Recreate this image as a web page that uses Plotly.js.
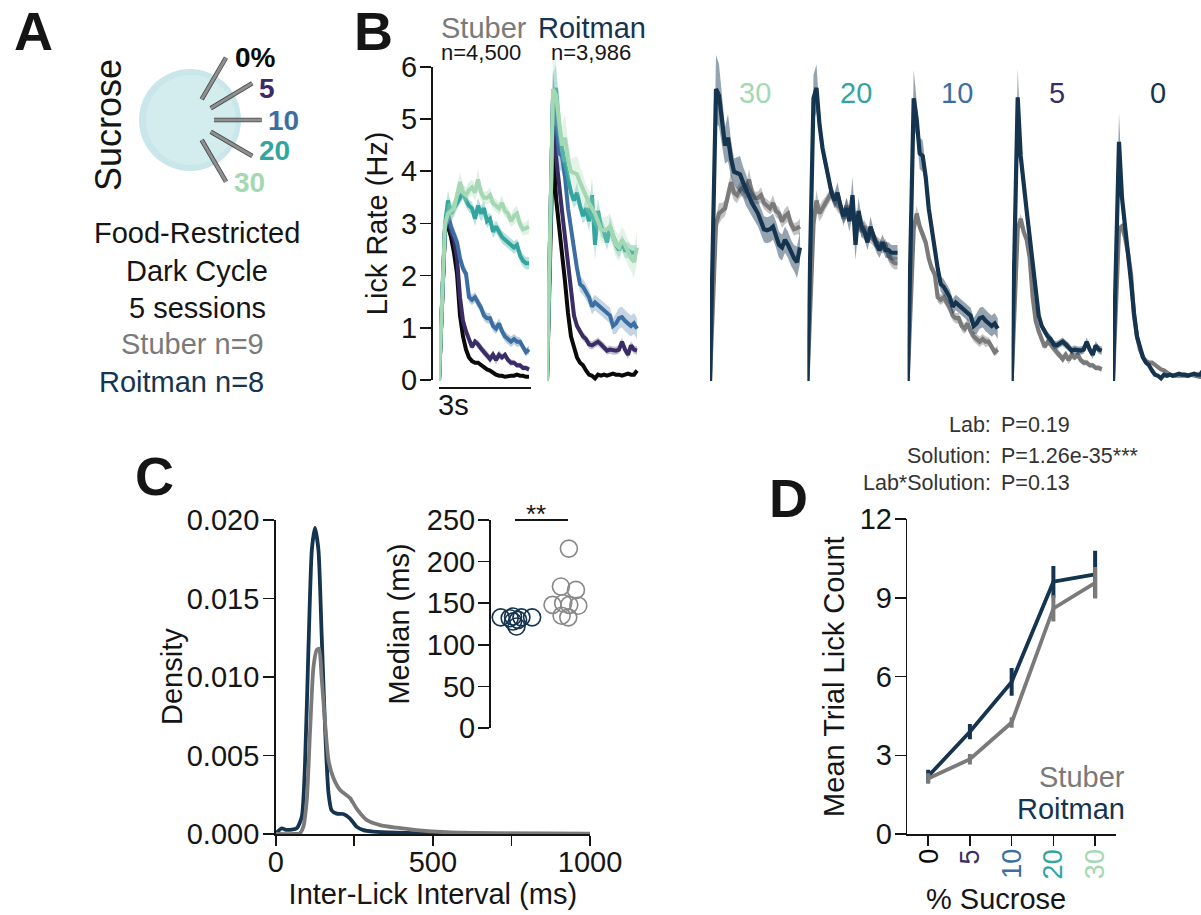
<!DOCTYPE html>
<html><head><meta charset="utf-8">
<script src="https://cdn.plot.ly/plotly-3.0.1.min.js"></script>
<style>html,body{margin:0;padding:0;background:#fff}#c{width:1201px;height:915px}</style>
</head><body><div id="c"></div>
<script>
const W=1201,H=915,FF='"Liberation Sans",Arial,sans-serif';
const NAVY='#14344f',GRAY='#7a7a7a',INK='#151515';
const C30='#a3d8b3',C20='#33a59f',C10='#3b6fa3',C5='#3a2d66',C0='#0a0a0a';
const conc=['30','20','10','5','0'];
const concCol=[C30,C20,C10,C5,C0];
const time=[0,.1,.2,.3,.4,.5,.6,.7,.8,.9,1,1.1,1.2,1.3,1.4,1.5,1.6,1.7,1.8,1.9,2,2.1,2.2,2.3,2.4,2.5,2.6,2.7,2.8,2.9,3];
const S30=[0,1.6,3.0,3.2,3.25,3.3,3.55,3.8,3.6,3.55,3.65,3.7,3.6,3.85,3.6,3.5,3.5,3.55,3.4,3.35,3.3,3.4,3.25,3.2,3.05,3.15,3.2,3.0,2.9,2.92,2.95];
const S20=[0,1.6,3.0,3.45,3.2,3.3,3.4,3.5,3.6,3.45,3.35,3.3,3.1,3.35,3.2,3.3,3.05,3.1,2.85,2.95,2.85,2.75,2.7,2.65,2.6,2.55,2.6,2.4,2.3,2.25,2.25];
const S10=[0,1.6,2.9,3.2,2.95,2.8,2.65,2.35,2.15,2.05,1.6,1.55,1.6,1.5,1.4,1.25,1.2,1.2,1.05,1.0,1.1,.95,.85,.8,.75,.8,.75,.75,.65,.55,.6];
const S5=[0,1.6,2.9,3.1,2.85,2.7,2.35,1.6,1.15,.95,.8,.65,.75,.7,.62,.55,.5,.42,.5,.4,.5,.45,.5,.4,.35,.35,.3,.3,.25,.25,.22];
const S0=[0,1.6,2.9,2.95,2.75,2.45,2.05,1.25,.85,.6,.45,.38,.35,.35,.3,.25,.22,.2,.15,.12,.1,.1,.08,.1,.1,.1,.12,.1,.1,.08,.08];
const R30=[0,2.8,5.58,5.46,5.0,4.5,4.65,4.25,4.0,3.98,3.95,3.8,3.65,3.5,3.4,3.3,3.2,3.05,2.9,2.88,2.9,2.95,2.8,2.6,2.55,2.7,2.6,2.45,2.35,2.27,2.55];
const R20=[0,2.7,5.4,5.6,4.9,4.45,4.15,3.9,3.6,3.45,3.6,3.35,3.15,3.3,3.05,3.55,2.6,3.25,2.95,2.85,2.65,2.95,2.75,2.6,2.5,2.65,2.5,2.5,2.45,2.45,2.45];
const R10=[0,2.7,5.4,5.0,4.35,4.3,3.9,3.3,2.9,2.55,2.15,1.85,1.8,1.7,1.6,1.42,1.5,1.45,1.4,1.35,1.3,1.25,1.05,1.1,1.2,1.22,1.15,1.1,1.05,1.1,1.0];
const R5=[0,2.7,5.42,4.3,3.7,3.25,2.75,2.2,1.7,1.25,1.05,.95,.85,.8,.7,.68,.72,.75,.7,.65,.58,.6,.58,.58,.6,.75,.6,.5,.68,.6,.58];
const R0=[0,2.3,4.57,3.5,3.0,2.45,1.9,1.3,.85,.65,.45,.35,.3,.2,.12,.1,.05,.12,.1,.12,.1,.12,.14,.12,.12,.1,.12,.14,.12,.12,.2];
const eS30=[0,.05,.15,.2,.15,.15,.15,.2,.15,.15,.15,.15,.15,.2,.15,.12,.12,.15,.12,.12,.12,.15,.12,.12,.12,.15,.15,.12,.12,.12,.15];
const eS20=[0,.05,.15,.2,.15,.15,.12,.12,.12,.12,.12,.12,.15,.15,.15,.15,.12,.12,.12,.12,.12,.12,.12,.12,.12,.12,.12,.12,.12,.12,.12];
const eS10=[0,.05,.15,.15,.12,.12,.12,.1,.1,.1,.1,.1,.1,.1,.1,.1,.1,.1,.1,.1,.1,.1,.1,.1,.1,.1,.1,.08,.08,.08,.08];
const eS5=[0,.05,.1,.1,.1,.1,.1,.08,.08,.06,.06,.06,.06,.08,.08,.08,.08,.08,.08,.08,.08,.06,.06,.06,.06,.05,.05,.05,.05,.05,.05];
const eS0=[0,.05,.08,.06,.06,.05,.05,.05,.05,.04,.04,.03,.03,.03,.03,.03,.03,.03,.03,.03,.02,.02,.02,.02,.02,.02,.02,.02,.02,.02,.02];
const eR30=[0,.2,.65,.6,.5,.35,.45,.35,.25,.3,.35,.3,.3,.25,.25,.25,.25,.25,.25,.25,.25,.25,.25,.25,.25,.25,.25,.25,.25,.3,.3];
const eR20=[0,.2,.45,.45,.25,.2,.15,.15,.15,.15,.2,.15,.15,.2,.2,.35,.3,.25,.2,.15,.15,.2,.15,.15,.15,.15,.15,.15,.15,.15,.15];
const eR10=[0,.2,.55,.35,.3,.3,.2,.15,.15,.15,.15,.15,.15,.15,.15,.15,.15,.15,.15,.15,.15,.15,.15,.2,.2,.2,.2,.2,.2,.2,.2];
const eR5=[0,.2,.55,.3,.2,.15,.12,.1,.1,.08,.08,.08,.08,.08,.08,.08,.08,.08,.08,.08,.08,.08,.08,.08,.08,.08,.08,.08,.08,.08,.08];
const eR0=[0,.2,.55,.3,.2,.12,.1,.08,.06,.05,.04,.04,.04,.03,.03,.03,.03,.03,.03,.03,.03,.03,.03,.03,.03,.03,.03,.03,.03,.03,.03];
const iliMsR=[0,19,35,67,83,93,104,115,125,136,146,157,168,178,194,215,236,257,279,311,385,491,1000];
const iliDenR=[.00004,.00036,.00026,.00036,.0011,.0043,.0117,.0181,.0195,.0181,.0128,.0068,.0026,.0015,.0013,.00127,.001,.00047,.00025,.00015,.00008,.00004,0];
const iliMsS=[0,60,77,88,99,109,120,130,138,146,157,168,183,205,236,258,289,332,385,448,544,703,1000];
const iliDenS=[0,0,.00004,.00047,.0022,.0064,.0106,.0117,.0118,.01,.0071,.0047,.0036,.0028,.0023,.0016,.0009,.00057,.0004,.00025,.00011,.00004,.00002];
const medXR=[.116,.205,.238,.321,.427,.272,.238,.288];
const medYR=[133,132,134,133,133,122,128,130];
const medXS=[.791,.712,.861,.629,.735,.884,.795,.719,.785];
const medYS=[215.6,170,166,148,150,147,148,135,133];
const sucrose=['0','5','10','20','30'];
const lickS=[2.12,2.85,4.25,8.6,9.58];
const lickSe=[.2,.2,.2,.5,.6];
const lickR=[2.2,3.9,5.8,9.62,9.9];
const lickRe=[.25,.29,.53,.6,.9];

const X=p=>p/W, Y=p=>1-p/H;
const tr=[];
const rgba=(h,a)=>{const n=parseInt(h.slice(1),16);return `rgba(${n>>16},${(n>>8)&255},${n&255},${a})`};
function band(x,m,e,col,xa,a){
  tr.push({x:x.concat(x.slice().reverse()),y:m.map((v,i)=>v+e[i]).concat(m.map((v,i)=>v-e[i]).reverse()),
    xaxis:xa,yaxis:'y2',mode:'lines',fill:'toself',fillcolor:rgba(col,a),line:{width:0},hoverinfo:'skip',showlegend:false});
}
function line(x,m,col,xa,w,name){
  tr.push({x:x,y:m,xaxis:xa,yaxis:'y2',mode:'lines',name:name,line:{color:col,width:w},showlegend:false});
}
// carries the visible rate axis of panel B
tr.push({x:time,y:S0,xaxis:'x',yaxis:'y',mode:'lines',line:{width:0},hoverinfo:'skip',showlegend:false});
const Ss=[S30,S20,S10,S5,S0],Rs=[R30,R20,R10,R5,R0],eSs=[eS30,eS20,eS10,eS5,eS0],eRs=[eR30,eR20,eR10,eR5,eR0];
[4,3,2,1,0].forEach(i=>{band(time,Ss[i],eSs[i],concCol[i],'x',.35);line(time,Ss[i],concCol[i],'x',4,'Stuber '+conc[i]);});
[4,3,2,1,0].forEach(i=>{band(time,Rs[i],eRs[i],concCol[i],'x2',.3);line(time,Rs[i],concCol[i],'x2',4,'Roitman '+conc[i]);});
[0,1,2,3,4].forEach(i=>{const xa='x'+(i+3);
  band(time,Ss[i],eSs[i],GRAY,xa,.45);line(time,Ss[i],GRAY,xa,4.2,'Stuber '+conc[i]);
  band(time,Rs[i],eRs[i],NAVY,xa,.45);line(time,Rs[i],NAVY,xa,4.2,'Roitman '+conc[i]);});
tr.push({x:iliMsR,y:iliDenR,xaxis:'x8',yaxis:'y3',mode:'lines',name:'Roitman',line:{color:NAVY,width:3.8,shape:'spline',smoothing:.6},showlegend:false});
tr.push({x:iliMsS,y:iliDenS,xaxis:'x8',yaxis:'y3',mode:'lines',name:'Stuber',line:{color:GRAY,width:3.8,shape:'spline',smoothing:.6},showlegend:false});
const mk=c=>({symbol:'circle-open',size:17,line:{color:c,width:1.6},color:c});
tr.push({x:medXR,y:medYR,xaxis:'x9',yaxis:'y4',mode:'markers',name:'Roitman',marker:mk(NAVY),showlegend:false});
tr.push({x:medXS,y:medYS,xaxis:'x9',yaxis:'y4',mode:'markers',name:'Stuber',marker:mk('#888888'),showlegend:false});
const errY=(a,c)=>({type:'data',array:a,visible:true,width:0,thickness:4,color:c});
tr.push({x:[0,1,2,3,4],y:lickR,error_y:errY(lickRe,NAVY),xaxis:'x10',yaxis:'y5',mode:'lines',name:'Roitman',line:{color:NAVY,width:3.8},showlegend:false});
tr.push({x:[0,1,2,3,4],y:lickS,error_y:errY(lickSe,GRAY),xaxis:'x10',yaxis:'y5',mode:'lines',name:'Stuber',line:{color:GRAY,width:3.8},showlegend:false});

const hid=(d,r)=>({domain:[X(d[0]),X(d[1])],range:r,visible:false,fixedrange:true});
const xB=(p0)=>hid([p0,p0+95],[0,95/30]);
const axBase={showgrid:false,zeroline:false,showline:true,linewidth:1.6,linecolor:INK,ticks:'outside',tickwidth:1.6,tickcolor:INK,tickfont:{family:FF,size:29,color:INK},fixedrange:true};
const tf={family:FF,size:29,color:INK};
const layout={
  width:W,height:H,margin:{l:0,r:0,t:0,b:0},paper_bgcolor:'#fff',plot_bgcolor:'rgba(0,0,0,0)',showlegend:false,hovermode:false,
  font:{family:FF,color:INK},
  xaxis:xB(439),xaxis2:xB(547),xaxis3:xB(710),xaxis4:xB(807.5),xaxis5:xB(907.7),xaxis6:xB(1011.7),xaxis7:hid([1113,1201],[0,88/30]),
  yaxis:Object.assign({},axBase,{domain:[Y(380),Y(66.7)],range:[0,6],anchor:'free',position:X(431),side:'left',tickvals:[0,1,2,3,4,5,6],ticklen:11,ticklabelstandoff:-3,
    title:{text:'Lick Rate (Hz)',font:tf,standoff:3}}),
  yaxis2:{domain:[Y(381+5.2),Y(50)],range:[-.1,(381-50)/52.33],visible:false,fixedrange:true},
  xaxis8:Object.assign({},axBase,{domain:[X(275.7),X(590)],range:[0,1000],anchor:'y3',tickvals:[0,250,500,750,1000],ticktext:['0','','500','','1000'],ticklen:10,ticklabelstandoff:-8,
    title:{text:'Inter-Lick Interval (ms)',font:tf,standoff:2}}),
  yaxis3:Object.assign({},axBase,{domain:[Y(834),Y(520)],range:[0,.02],anchor:'x8',tickvals:[0,.005,.01,.015,.02],ticktext:['0.000','0.005','0.010','0.015','0.020'],ticklen:11,ticklabelstandoff:-2}),
  xaxis9:hid([489,590],[0,1]),
  yaxis4:Object.assign({},axBase,{domain:[Y(728),Y(520)],range:[0,250],anchor:'free',position:X(489),tickvals:[0,50,100,150,200,250],ticklen:11,ticklabelstandoff:-3,
    title:{text:'Median (ms)',font:tf,standoff:7}}),
  xaxis10:Object.assign({},axBase,{domain:[X(907.3),X(1116)],range:[-.5,4.5],anchor:'y5',tickvals:[0,1,2,3,4],showticklabels:false,ticklen:10}),
  yaxis5:Object.assign({},axBase,{domain:[Y(834),Y(519.3)],range:[0,12],anchor:'x10',tickvals:[0,3,6,9,12],ticklen:11,ticklabelstandoff:-3,
    title:{text:'Mean Trial Lick Count',font:tf,standoff:6}}),
  shapes:[],annotations:[]
};
const note=(text,x,y,o={})=>layout.annotations.push(Object.assign({text,x:X(x),y:Y(y),xref:'paper',yref:'paper',showarrow:false,xanchor:'center',yanchor:'middle',borderpad:0,
  font:{family:FF,size:o.size||29,color:o.color||INK,weight:o.weight||400}},o.extra||{}));
[['A',33,31],['B',373,31],['C',154,476],['D',788,498]].forEach(a=>note(a[0],a[1],a[2],{size:54,weight:700}));
const sh=layout.shapes;
const pxs=(o)=>Object.assign({xref:'paper',yref:'paper'},o);
const circ=(cx,cy,r,c)=>sh.push(pxs({type:'circle',x0:X(cx-r),x1:X(cx+r),y0:Y(cy+r),y1:Y(cy-r),fillcolor:c,line:{width:0},layer:'below'}));
circ(190,120,51,'#c9e7ea');circ(191,120,45,'#d3ecee');
[[201.7,99.3,226,57.7],[210.7,108.3,252.3,83.3],[214,120,261.7,120],[210.7,131.7,252.3,156],[201.7,140,226,181.7]].forEach(r=>{
  sh.push(pxs({type:'line',x0:X(r[0]),y0:Y(r[1]),x1:X(r[2]),y1:Y(r[3]),line:{color:'rgba(30,30,30,.8)',width:4.6}}));
  sh.push(pxs({type:'line',x0:X(r[0]),y0:Y(r[1]),x1:X(r[2]),y1:Y(r[3]),line:{color:'#8f8f8f',width:3}}));
});
note('Sucrose',108,125,{size:36,extra:{textangle:-90}});
[['0%',255,57,C0],['5',267,88,C5],['10',283,120,C10],['20',274,151,C20],['30',250,183,C30]].forEach(a=>note(a[0],a[1],a[2],{size:28,weight:700,color:a[3]}));
note('Food-Restricted',197,233);note('Dark Cycle',197,271);note('5 sessions',197,308);
note('Stuber n=9',192,344,{color:GRAY});note('Roitman n=8',181,382,{color:NAVY});
note('Stuber',484,28,{color:GRAY});note('Roitman',592,28,{color:NAVY});
note('n=4,500',481,52,{size:22});note('n=3,986',591,52,{size:22});
note('3s',453,405);
sh.push({type:'line',xref:'paper',yref:'paper',x0:X(439),x1:X(531),y0:Y(388),y1:Y(388),line:{color:INK,width:2}});
[['30',755,C30],['20',856,C20],['10',957,C10],['5',1057,C5],['0',1158,NAVY]].forEach(a=>note(a[0],a[1],93,{color:a[2]}));
note('Density',172,677,{extra:{textangle:-90}});
note('**',536,514,{size:26});
sh.push({type:'line',xref:'paper',yref:'paper',x0:X(515),x1:X(568),y0:Y(520),y1:Y(520),line:{color:INK,width:1.8}});
note('Stuber',1126,777,{color:GRAY,extra:{xanchor:'right'}});
note('Roitman',1126,809,{color:NAVY,extra:{xanchor:'right'}});
note('% Sucrose',996,899);
sucrose.forEach((s,i)=>layout.annotations.push({text:s,x:i,xref:'x10',y:Y(848),yref:'paper',showarrow:false,textangle:-90,xanchor:'center',yanchor:'top',borderpad:0,
  font:{family:FF,size:27,color:concCol[4-i]}}));
const P='#333333';
[['Lab:','P=0.19',425],['Solution:','P=1.26e-35***',456],['Lab*Solution:','P=0.13',483]].forEach(a=>{
  note(a[0],992,a[2],{size:21.5,color:P,extra:{xanchor:'right'}});
  note(a[1],1000,a[2],{size:21.5,color:P,extra:{xanchor:'left'}});
});
Plotly.newPlot('c',tr,layout,{displayModeBar:false,staticPlot:true});
</script></body></html>
